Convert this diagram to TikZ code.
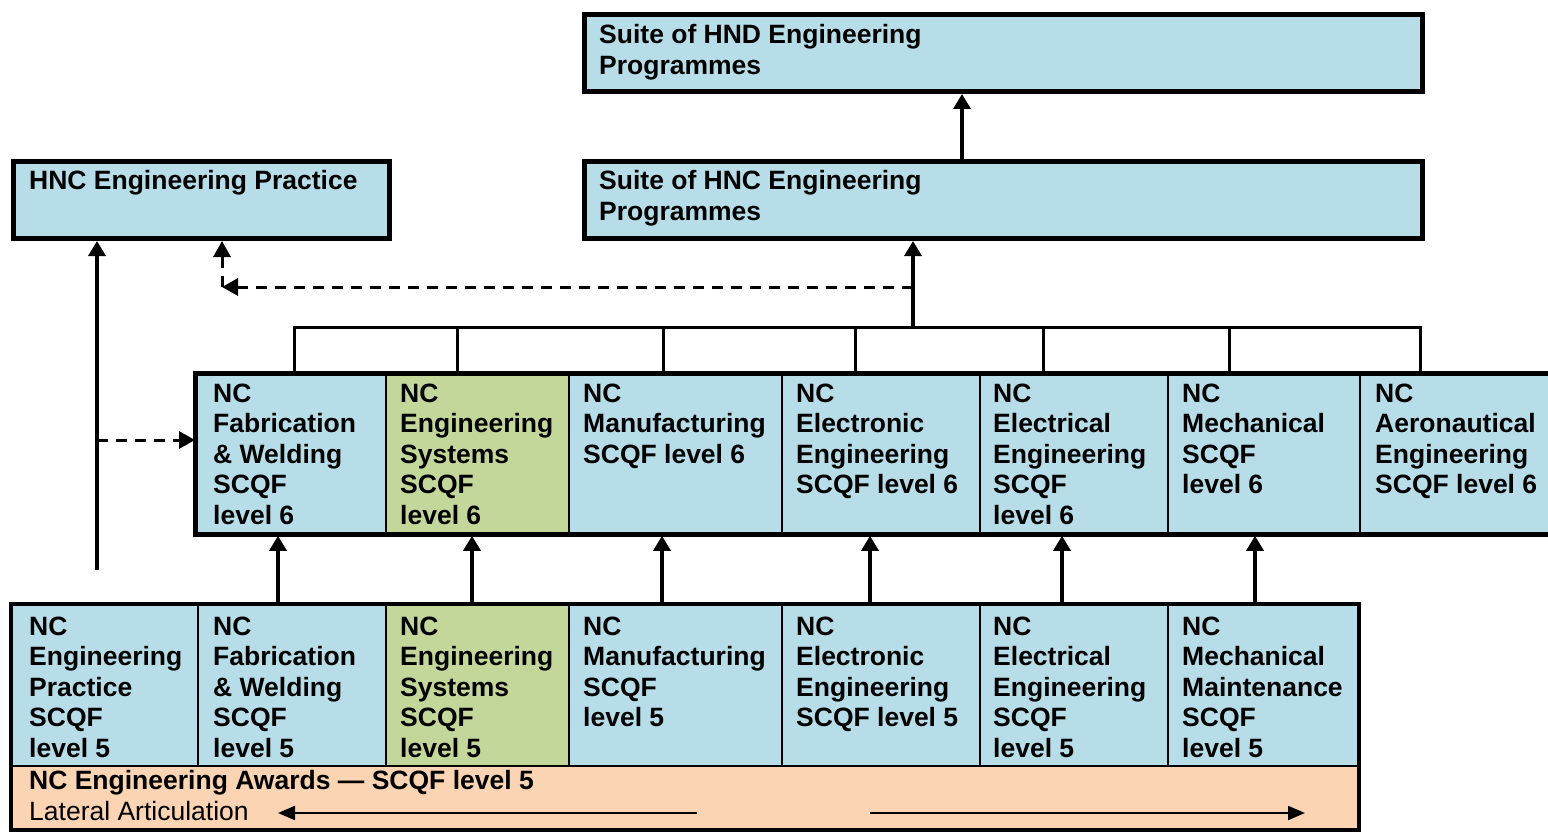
\documentclass[tikz,border=0pt]{standalone}
\usepackage{fontspec}
\setmainfont{Liberation Sans}
\usetikzlibrary{arrows.meta}
\definecolor{cblue}{HTML}{B7DDE8}
\definecolor{cgreen}{HTML}{C4D79B}
\definecolor{cpeach}{HTML}{FBD4B4}
\begin{document}
\begin{tikzpicture}[x=1pt,y=-1pt,
  cellbox/.style={draw, line width=1.8pt, anchor=north west, inner sep=0, fill=cblue},
  bigbox/.style={draw, line width=5pt, anchor=north west, inner sep=0, fill=cblue},
  txt/.style={anchor=north west, inner sep=0, align=left, font=\fontsize{26.5}{30.5}\selectfont\bfseries},
  rtxt/.style={anchor=north west, inner sep=0, align=left, font=\fontsize{26.5}{30.5}\selectfont},
  arr/.style={line width=3.5pt, -{Triangle[length=15pt,width=17pt]}},
  dasharr/.style={line width=3pt, dash pattern=on 11pt off 8pt, -{Triangle[length=16pt,width=17pt]}},
  latarr/.style={line width=2.2pt, -{Triangle[length=17pt,width=14pt]}},
  brk/.style={line width=3pt}]
\useasboundingbox (0,0) rectangle (1548,832);

% top boxes
\node[bigbox, minimum width=838pt, minimum height=77pt] (hnd) at (582,12) {};
\node[txt] (hndt) at (599,24.4) {Suite of HND Engineering\\Programmes};
\node[bigbox, minimum width=838pt, minimum height=77pt] (hnc) at (582,159) {};
\node[txt] (hnct) at (599,170.4) {Suite of HNC Engineering\\Programmes};
\node[bigbox, minimum width=376pt, minimum height=77pt] (hncp) at (11,159) {};
\node[txt] (hncpt) at (29,170.4) {HNC Engineering Practice};

% level 6 row
\node[cellbox, minimum width=190pt, minimum height=161pt] (s1) at (195,373) {};
\node[cellbox, fill=cgreen, minimum width=183pt, minimum height=161pt] (s2) at (385,373) {};
\node[cellbox, minimum width=213pt, minimum height=161pt] (s3) at (568,373) {};
\node[cellbox, minimum width=198pt, minimum height=161pt] (s4) at (781,373) {};
\node[cellbox, minimum width=188pt, minimum height=161pt] (s5) at (979,373) {};
\node[cellbox, minimum width=192pt, minimum height=161pt] (s6) at (1167,373) {};
\node[cellbox, minimum width=193pt, minimum height=161pt] (s7) at (1359,373) {};
\draw[line width=5pt] (195,373) rectangle (1556,534);
\node[txt] (s1t) at (213,383.4) {NC\\Fabrication\\\& Welding\\SCQF\\level 6};
\node[txt] (s2t) at (400,383.4) {NC\\Engineering\\Systems\\SCQF\\level 6};
\node[txt] (s3t) at (583,383.4) {NC\\Manufacturing\\SCQF level 6};
\node[txt] (s4t) at (796,383.4) {NC\\Electronic\\Engineering\\SCQF level 6};
\node[txt] (s5t) at (993,383.4) {NC\\Electrical\\Engineering\\SCQF\\level 6};
\node[txt] (s6t) at (1182,383.4) {NC\\Mechanical\\SCQF\\level 6};
\node[txt] (s7t) at (1375,383.4) {NC\\Aeronautical\\Engineering\\SCQF level 6};

% level 5 row
\node[cellbox, minimum width=186pt, minimum height=161pt] (f1) at (11,604) {};
\node[cellbox, minimum width=188pt, minimum height=161pt] (f2) at (197,604) {};
\node[cellbox, fill=cgreen, minimum width=183pt, minimum height=161pt] (f3) at (385,604) {};
\node[cellbox, minimum width=213pt, minimum height=161pt] (f4) at (568,604) {};
\node[cellbox, minimum width=198pt, minimum height=161pt] (f5) at (781,604) {};
\node[cellbox, minimum width=188pt, minimum height=161pt] (f6) at (979,604) {};
\node[cellbox, minimum width=192pt, minimum height=161pt] (f7) at (1167,604) {};
\node[cellbox, fill=cpeach, minimum width=1348pt, minimum height=65pt] (strip) at (11,765) {};
\draw[line width=4.5pt] (11,604) rectangle (1359,830);
\node[txt] (f1t) at (29,616.4) {NC\\Engineering\\Practice\\SCQF\\level 5};
\node[txt] (f2t) at (213,616.4) {NC\\Fabrication\\\& Welding\\SCQF\\level 5};
\node[txt] (f3t) at (400,616.4) {NC\\Engineering\\Systems\\SCQF\\level 5};
\node[txt] (f4t) at (583,616.4) {NC\\Manufacturing\\SCQF\\level 5};
\node[txt] (f5t) at (796,616.4) {NC\\Electronic\\Engineering\\SCQF level 5};
\node[txt] (f6t) at (993,616.4) {NC\\Electrical\\Engineering\\SCQF\\level 5};
\node[txt] (f7t) at (1182,616.4) {NC\\Mechanical\\Maintenance\\SCQF\\level 5};
\node[txt] (awt) at (29,770.4) {NC Engineering Awards --- SCQF level 5};
\node[rtxt] (latt) at (29,801.4) {Lateral Articulation};

% lateral arrows
\coordinate (la1) at (697,813);
\coordinate (la2) at (278,813);
\coordinate (ra1) at (870,813);
\coordinate (ra2) at (1305,813);
\draw[latarr] (la1) -- (la2);
\draw[latarr] (ra1) -- (ra2);

% level 5 -> level 6 arrows
\coordinate (a1) at (278,0);
\coordinate (a2) at (472,0);
\coordinate (a3) at (662,0);
\coordinate (a4) at (870,0);
\coordinate (a5) at (1062,0);
\coordinate (a6) at (1255,0);
\draw[arr] (f2.north -| a1) -- (s1.south -| a1);
\draw[arr] (f3.north -| a2) -- (s2.south -| a2);
\draw[arr] (f4.north -| a3) -- (s3.south -| a3);
\draw[arr] (f5.north -| a4) -- (s4.south -| a4);
\draw[arr] (f6.north -| a5) -- (s5.south -| a5);
\draw[arr] (f7.north -| a6) -- (s6.south -| a6);

% bracket
\coordinate (bl) at (294,327);
\coordinate (br) at (1420,327);
\draw[brk] (s1.north -| bl) -- (bl) -- (br) -- (s7.north -| br);
\foreach \xx in {457,663,855,1043,1229}{
  \draw[brk] (\xx,327) -- (\xx,373);
}
\coordinate (bm) at (913,327);
\draw[arr] (bm) -- (hnc.south -| bm);
\coordinate (hx) at (962,0);
\draw[arr] (hnc.north -| hx) -- (hnd.south -| hx);

% dashed to HNC practice
\coordinate (d1) at (913,287);
\coordinate (d2) at (222,287);
\draw[dasharr] (d1) -- (d2);
\draw[dasharr] (d2) -- (hncp.south -| d2);

% left vertical arrow
\coordinate (lv) at (97,570);
\draw[arr] (lv) -- (hncp.south -| lv);
\coordinate (ld) at (97,440);
\draw[dasharr] (ld) -- (s1.west |- ld);
\end{tikzpicture}
\end{document}
